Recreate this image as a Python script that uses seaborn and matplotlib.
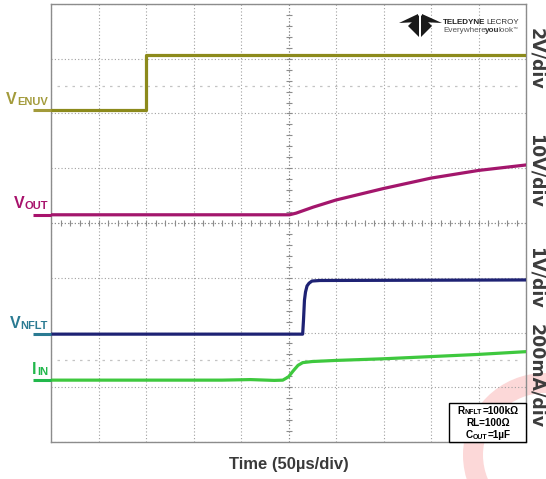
import numpy as np
import pandas as pd
import matplotlib
matplotlib.use("Agg")
import matplotlib.pyplot as plt
import seaborn as sns
from matplotlib.patches import Rectangle, Circle, Polygon
from matplotlib.transforms import IdentityTransform

# ---------------- data (time in µs, 50 µs/div; values in screen divisions 0..8) -------------
venuv_t = [0, 100, 100, 500]
venuv_v = [6.06, 6.06, 7.07, 7.07]

vout_t = [0, 251, 258, 276, 300, 350, 400, 450, 500]
vout_v = [4.15, 4.15, 4.18, 4.29, 4.42, 4.63, 4.82, 4.96, 5.06]

vnflt_t = [0, 264.9, 265.8, 266.8, 267.9, 269.5, 271.6, 274.7, 283.2, 500]
vnflt_v = [1.97, 1.97, 2.23, 2.59, 2.74, 2.85, 2.90, 2.94, 2.95, 2.96]

iin_t = [0, 180, 210, 235, 244, 250, 255, 260, 265, 275, 300, 350, 400, 450, 500]
iin_v = [1.13, 1.13, 1.14, 1.125, 1.13, 1.19, 1.30, 1.40, 1.45, 1.47, 1.49, 1.52,
         1.56, 1.60, 1.65]

channel_main = ["V", "V", "V", "I"]
channel_sub = ["ENUV", "OUT", "NFLT", "IN"]
channel_scales = ["2V/div", "10V/div", "1V/div", "200mA/div"]
scale_label_pos = [7.0, 4.95, 3.0, 1.2]
cursor_levels = [6.5, 1.5]
note_lines = [("R", "NFLT", "=100kΩ"), ("", "", "RL=100Ω"), ("C", "OUT", "=1µF")]
x_label = "Time (50µs/div)"

trace_colors = ["#8c8a1c", "#a3166c", "#1e2274", "#3ec83e"]
label_colors = ["#a39b3b", "#a8126c", "#2a7a92", "#22b84c"]

# ---------------- figure ----------------
sns.set_theme(style="white")
plt.rcParams["font.family"] = ["Liberation Sans", "DejaVu Sans"]

W, H = 546, 479
fig = plt.figure(figsize=(W / 100, H / 100), dpi=100)
fig.patch.set_facecolor("white")
ax = fig.add_axes([51 / W, 1 - 442 / H, 475 / W, 438 / H])
ax.set_facecolor("none")
ax.set_xlim(0, 500)
ax.set_ylim(0, 8)

# grid
ax.set_xticks(np.arange(0, 501, 50))
ax.set_yticks(np.arange(0, 9, 1))
ax.tick_params(length=0, labelbottom=False, labelleft=False)
ax.grid(True, color="#a0a0a0", ls=(0, (1, 2)), lw=0.8)
for s in ax.spines.values():
    s.set_color("#8c8c8c")
    s.set_linewidth(1.0)

# center cross with minor ticks
ax.axvline(250, color="#8c8c8c", lw=0.8, ls=(0, (1, 2)))
ax.axhline(4, color="#8c8c8c", lw=0.8, ls=(0, (1, 2)))
yt = np.arange(0.2, 8, 0.2)
ax.plot(np.full_like(yt, 250), yt, ls="", marker="_", ms=4, mew=0.8, color="#8c8c8c")
xt = np.arange(10, 500, 10)
ax.plot(xt, np.full_like(xt, 4.0), ls="", marker="|", ms=4, mew=0.8, color="#8c8c8c")

# cursor reference lines
ax.hlines(cursor_levels, 6, 492, colors="#c4c4c4", linestyles=(0, (2, 4)), lw=0.9)

# traces
series = [(venuv_t, venuv_v), (vout_t, vout_v), (vnflt_t, vnflt_v), (iin_t, iin_v)]
for (t, v), col in zip(series, trace_colors):
    df = pd.DataFrame({"t": t, "v": v})
    sns.lineplot(data=df, x="t", y="v", ax=ax, color=col, lw=2.3,
                 estimator=None, sort=False, zorder=4)
ax.set_xlabel("")
ax.set_ylabel("")

# note box
ax.add_patch(Rectangle((419, 0.0), 81, (442 - 403) / 54.75, facecolor="white",
                       edgecolor="black", lw=1.0, zorder=6, clip_on=False))

renderer = fig.canvas.get_renderer()
ID = IdentityTransform()


def rich(parts, x, y, align="left", gap=0.4):
    """parts: list of (text, size, weight, color, dy) ; x,y display px (y up)."""
    arts = []
    for (s, size, weight, color, dy) in parts:
        if not s:
            continue
        t = fig.text(0, 0, s, fontsize=size, weight=weight, color=color,
                     transform=ID, ha="left", va="baseline", zorder=8)
        w = t.get_window_extent(renderer).width
        arts.append((t, dy, w))
    total = sum(a[2] for a in arts) + gap * (len(arts) - 1)
    if align == "right":
        x0 = x - total
    elif align == "center":
        x0 = x - total / 2
    else:
        x0 = x
    for t, dy, w in arts:
        t.set_position((x0, y + dy))
        x0 += w + gap
    return arts


# left channel labels + colored stubs
for (t, v), main, sub, lc in zip(series, channel_main, channel_sub, label_colors):
    level = v[0]
    ax.plot([-19, 0], [level, level], color=lc, lw=2.2, clip_on=False,
            solid_capstyle="butt", zorder=4)
    ydisp = ax.transData.transform((0, level + 0.12))[1]
    rich([(main, 11.5, "bold", lc, 0), (sub, 8, "bold", lc, -1)], 48, ydisp,
         align="right", gap=0.3)

# right scale labels
for lab, pos in zip(channel_scales, scale_label_pos):
    ax.text(510.5, pos, lab, rotation=270, ha="center", va="center",
            fontsize=12.5, weight="bold", color="#3c3c3c",
            family="DejaVu Sans", clip_on=False)

# x label
fig.text(289 / W, 1 - 464 / H, x_label, ha="center", va="center",
         fontsize=12, weight="bold", color="#3a3a3a")

# note box text
baselines = [413.5, 425.8, 438.0]
for (a, b, c), yb in zip(note_lines, baselines):
    rich([(a, 7.2, "bold", "black", 0), (b, 5.0, "bold", "black", -1),
          (c, 7.2, "bold", "black", 0)], 488, H - yb, align="center", gap=0.2)

# logo
rich([("TELEDYNE", 5.8, "bold", "#222222", 0), ("LECROY", 5.8, "normal", "#333333", 0)],
     443, H - 23.5, align="left", gap=1.2)
rich([("Everywhere", 5.9, "normal", "#555555", 0), ("you", 5.9, "bold", "#333333", 0),
      ("look", 5.9, "normal", "#555555", 0), ("™", 3.5, "normal", "#555555", 3)],
     443, H - 31.8, align="left", gap=-1.0)
logo_polys = [
    [(399, 23), (418, 14), (418, 22)],
    [(442, 23), (422, 14), (422, 22)],
    [(419, 15), (419, 37), (408, 26)],
    [(421, 15), (421, 37), (432, 26)],
]
for poly in logo_polys:
    fig.add_artist(Polygon([(px, H - py) for px, py in poly], closed=True,
                           facecolor="#1a1a1a", edgecolor="none", transform=ID, zorder=8))

# faint watermark ring
fig.add_artist(Circle((545, H - 455), radius=72, facecolor="none", edgecolor="#fcd8d8",
                      lw=14.4, transform=ID, zorder=-1))

fig.savefig("out.png", dpi=100, facecolor="white")
